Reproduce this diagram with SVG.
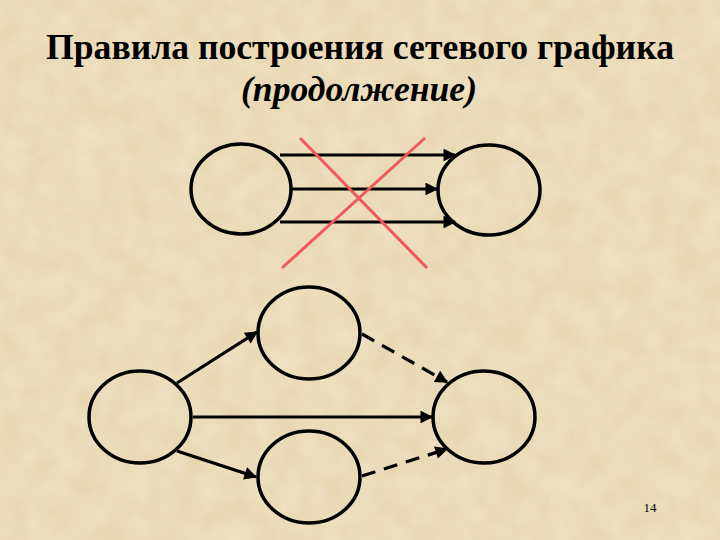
<svg xmlns="http://www.w3.org/2000/svg" width="720" height="540" viewBox="0 0 720 540">
<defs>
<style>
.node{fill:none;stroke:#000;stroke-width:3.5}
.arr{stroke:#000;stroke-width:3.2;fill:none;marker-end:url(#ah)}
.dash{stroke-dasharray:14 9}
.cross{stroke:#F0585A;stroke-width:3}
.t{font-family:"Liberation Serif","Times New Roman",serif;fill:#000}
</style>
<marker id="ah" viewBox="0 0 10 10" refX="9" refY="5" markerWidth="4.5" markerHeight="4" orient="auto" markerUnits="strokeWidth">
<path d="M0,0L10,5L0,10z" fill="#000"/>
</marker>
<filter id="tex" x="0" y="0" width="100%" height="100%">
<feTurbulence type="fractalNoise" baseFrequency="0.04" numOctaves="3" seed="3"/>
<feColorMatrix type="matrix" values="0 0 0 0 0.95  0 0 0 0 0.89  0 0 0 0 0.76  0 0 0 -0.9 0.7"/>
</filter>
</defs>
<rect width="720" height="540" fill="#E9D7B2"/>
<rect width="720" height="540" filter="url(#tex)" opacity="0.6"/>
<text class="t" x="360" y="59" font-size="35" font-weight="bold" text-anchor="middle" textLength="628" lengthAdjust="spacingAndGlyphs">Правила построения сетевого графика</text>
<text class="t" x="359" y="101" font-size="35" font-weight="bold" font-style="italic" text-anchor="middle" textLength="236" lengthAdjust="spacingAndGlyphs">(продолжение)</text>
<g id="top-left"><ellipse class="node" cx="241" cy="189" rx="50" ry="45"/></g>
<g id="top-right"><ellipse class="node" cx="489" cy="190" rx="51" ry="45"/></g>
<g id="b-left"><ellipse class="node" cx="140" cy="417" rx="51" ry="46"/></g>
<g id="b-top"><ellipse class="node" cx="309" cy="333" rx="51" ry="46"/></g>
<g id="b-bottom"><ellipse class="node" cx="309" cy="477" rx="51" ry="46"/></g>
<g id="b-right"><ellipse class="node" cx="484" cy="417" rx="51" ry="46"/></g>
<g id="connectors">
<line class="arr" x1="280" y1="155" x2="455" y2="155"/>
<line class="arr" x1="292" y1="189" x2="437" y2="189"/>
<line class="arr" x1="280" y1="222" x2="455" y2="222"/>
<line class="arr" x1="177" y1="383" x2="257" y2="332"/>
<line class="arr" x1="193" y1="417" x2="432" y2="417"/>
<line class="arr" x1="177" y1="451" x2="256" y2="477"/>
<line class="arr dash" x1="362" y1="334" x2="447" y2="382"/>
<line class="arr dash" x1="362" y1="476" x2="447" y2="449"/>
</g>
<g id="cross">
<line class="cross" x1="300" y1="138" x2="427" y2="268"/>
<line class="cross" x1="425" y1="138" x2="282" y2="268"/>
</g>
<text class="t" x="650" y="512" font-size="13" text-anchor="middle">14</text>
</svg>
